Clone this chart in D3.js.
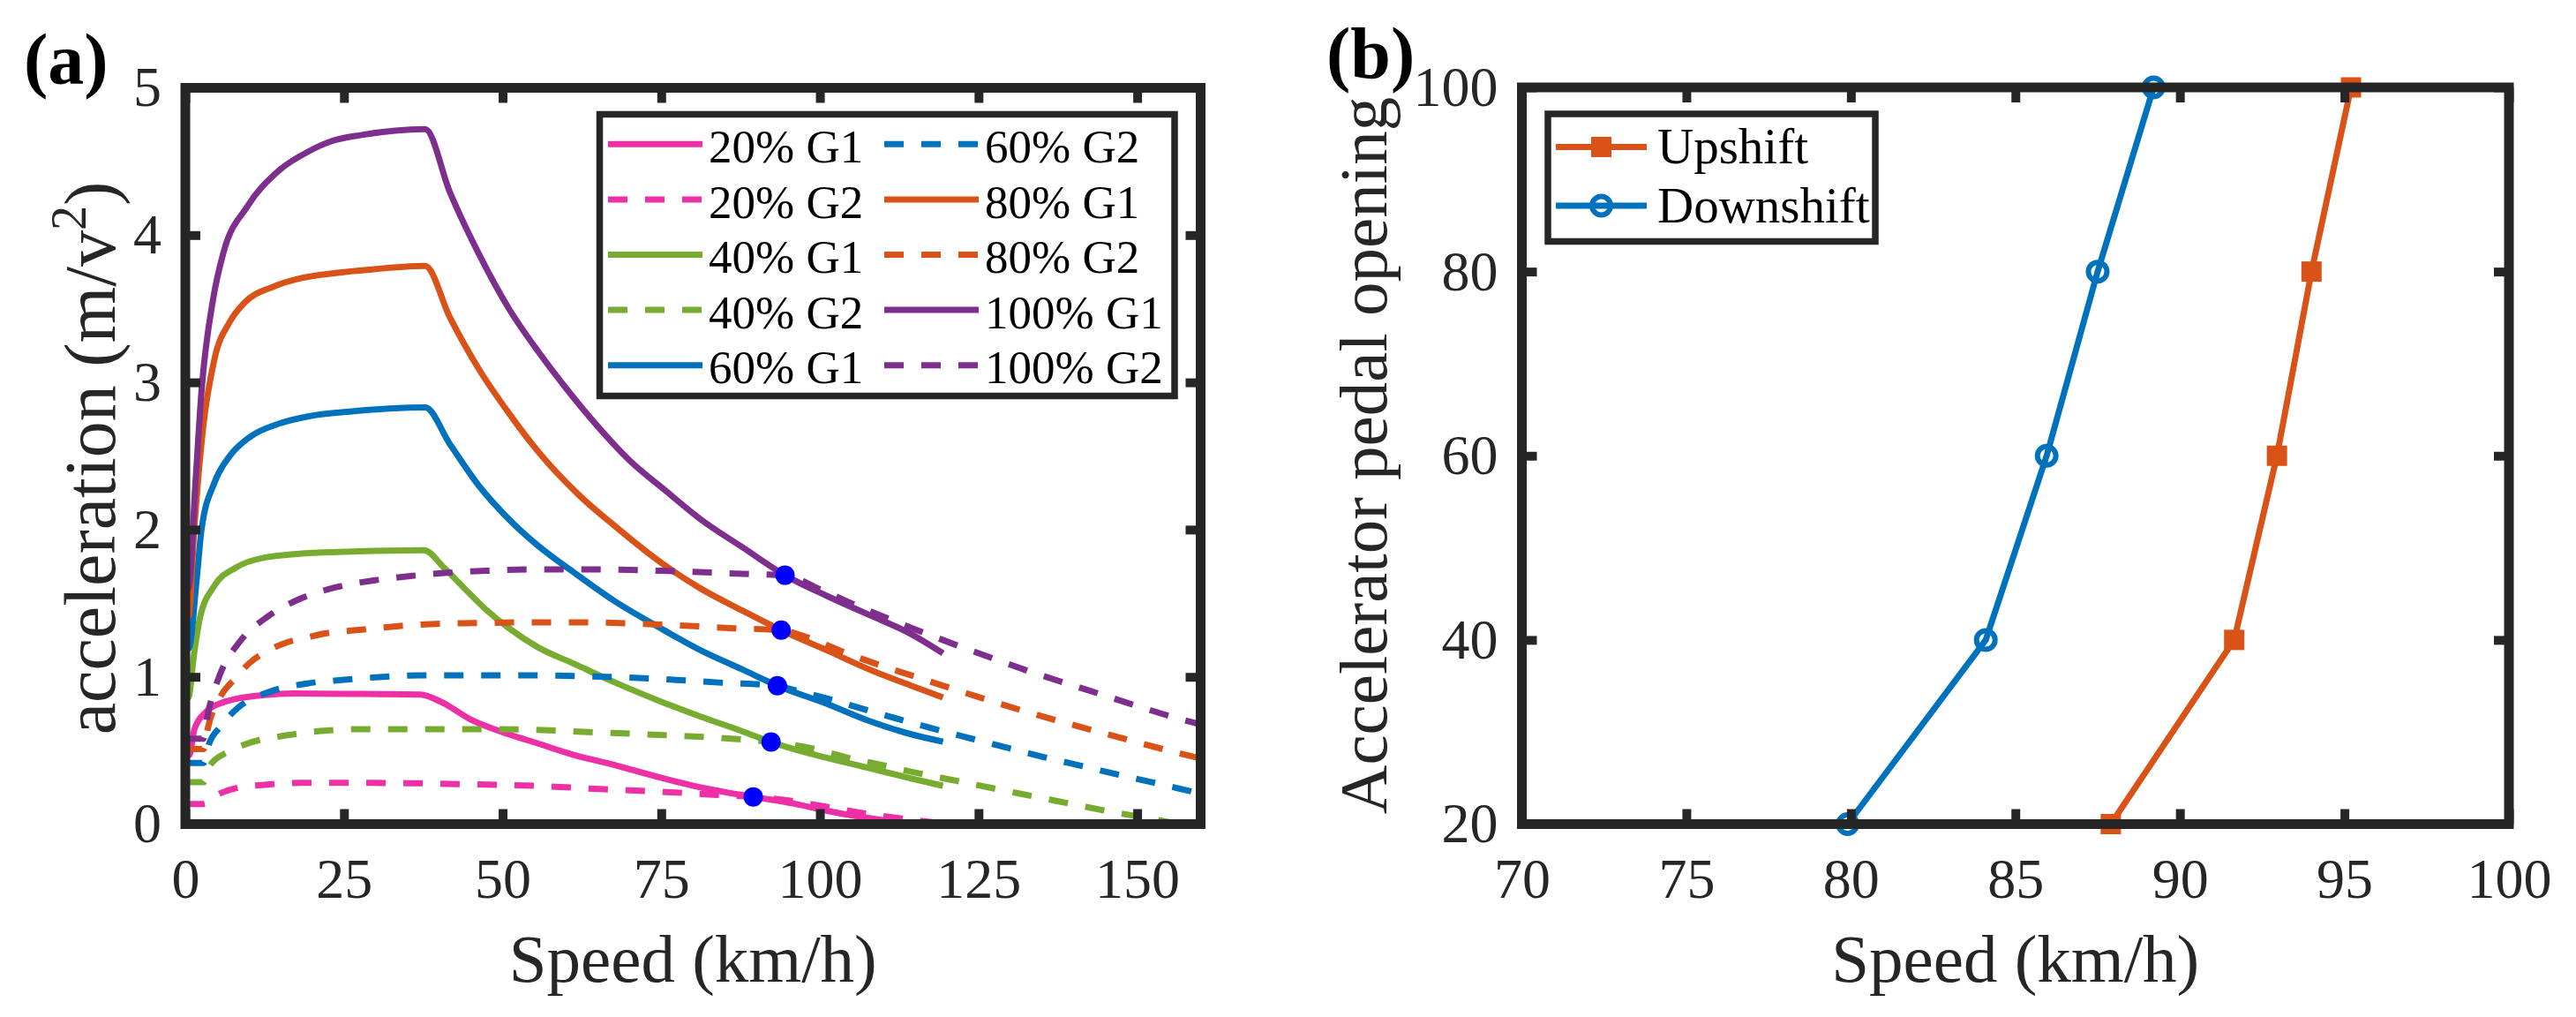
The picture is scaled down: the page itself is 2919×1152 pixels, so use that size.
<!DOCTYPE html>
<html>
<head>
<meta charset="utf-8">
<script src="https://cdn.jsdelivr.net/npm/d3@7"></script>
<style>
body { margin: 0; background: #fff; }
</style>
</head>
<body>
<svg id="chart"></svg>
<script>
// ---------- data ----------
var pedalLabels = ['20%', '40%', '60%', '80%', '100%'];

// gear 1 curves: speed (km/h) and acceleration
var g1Speed20 = [0, 0.7, 1.4, 3.2, 5.5, 12.5, 17.1, 25, 37.1, 40.3, 45, 51, 55.6, 61.2, 67.8, 74.5, 81.2, 89.5, 95.8, 101.1, 107.8, 112.4];
var g1Acc20 = [0.46, 0.47, 0.64, 0.76, 0.82, 0.877, 0.887, 0.885, 0.88, 0.83, 0.71, 0.61, 0.547, 0.47, 0.40, 0.32, 0.25, 0.185, 0.14, 0.09, 0.04, 0.01];
var g1Speed40 = [0, 0.46, 1.39, 2.3, 4.6, 7.9, 12.5, 21.8, 37.6, 40.8, 44, 47.3, 51, 55.6, 61.2, 67.8, 74.5, 81.2, 87.8, 92.3, 101.1, 107.8, 114.4, 119.4];
var g1Acc40 = [0.86, 0.86, 1.16, 1.40, 1.62, 1.74, 1.81, 1.845, 1.86, 1.74, 1.60, 1.46, 1.33, 1.20, 1.09, 0.96, 0.84, 0.73, 0.63, 0.557, 0.45, 0.38, 0.31, 0.26];
var g1Speed60 = [0, 0.5, 1.85, 2.55, 4.6, 7.0, 10.2, 14.8, 19.5, 25.5, 37.8, 41.7, 46.4, 51, 55.6, 61.2, 67.8, 74.5, 81.2, 87.8, 93.3, 101.1, 107.8, 114.4, 119.4];
var g1Acc60 = [1.19, 1.19, 1.69, 2.0, 2.32, 2.50, 2.63, 2.72, 2.77, 2.80, 2.83, 2.58, 2.29, 2.07, 1.89, 1.71, 1.51, 1.34, 1.18, 1.05, 0.94, 0.817, 0.70, 0.61, 0.56];
var g1Speed80 = [0, 0.5, 1.4, 2.8, 4.6, 7.0, 9.3, 13.9, 18.5, 23.2, 27.8, 37.8, 41.7, 46.4, 51, 55.6, 61.9, 67.8, 74.5, 81.2, 87.8, 93.9, 101.1, 107.8, 114.4, 119.4];
var g1Acc80 = [1.41, 1.41, 2.0, 2.69, 3.16, 3.41, 3.54, 3.65, 3.71, 3.74, 3.76, 3.79, 3.44, 3.08, 2.79, 2.53, 2.24, 2.02, 1.79, 1.60, 1.45, 1.317, 1.18, 1.05, 0.94, 0.86];
var g1Speed100 = [0, 0.5, 1.6, 2.55, 4.4, 6.0, 9.7, 14.8, 19.5, 23.2, 27.8, 37.8, 41.7, 46.4, 51, 55.6, 60, 65, 70, 75.8, 81.2, 87.8, 94.5, 101.1, 107.8, 114.4, 119.4];
var g1Acc100 = [1.59, 1.6, 2.32, 2.94, 3.57, 3.88, 4.19, 4.44, 4.57, 4.64, 4.68, 4.72, 4.29, 3.86, 3.50, 3.21, 2.96, 2.70, 2.47, 2.26, 2.07, 1.88, 1.69, 1.55, 1.42, 1.29, 1.16];

// gear 2 curves
var g2Speed20 = [0, 2.9, 5.1, 8.1, 12.5, 18.3, 24, 35, 45, 55, 64.5, 75, 83, 89.5, 95.1, 100.7, 106.5, 112.4, 119.5];
var g2Acc20 = [0.137, 0.137, 0.20, 0.245, 0.267, 0.28, 0.28, 0.278, 0.27, 0.26, 0.24, 0.22, 0.20, 0.185, 0.16, 0.12, 0.076, 0.04, 0.005];
var g2Speed40 = [0, 2.9, 3.9, 6.7, 9, 12, 14.8, 17.8, 22.3, 28, 34.1, 45.9, 55, 63.5, 75, 87.1, 92.3, 98.9, 104.6, 110.2, 116.1, 121.9, 127.5, 133.4, 139.2, 145, 150.8, 156.1];
var g2Acc40 = [0.285, 0.285, 0.40, 0.49, 0.535, 0.575, 0.595, 0.615, 0.635, 0.645, 0.645, 0.645, 0.64, 0.625, 0.605, 0.577, 0.557, 0.513, 0.449, 0.397, 0.34, 0.291, 0.241, 0.191, 0.141, 0.091, 0.047, 0.005];
var g2Speed60 = [0, 2.9, 3.7, 5.5, 8.3, 13.4, 19.2, 25, 31.1, 37.1, 42.9, 55, 66.5, 75, 84.5, 93.3, 95.9, 101.6, 107.2, 112.9, 118.5, 124.2, 130, 135.7, 141.4, 147.1, 152.9, 158.6, 160];
var g2Acc60 = [0.415, 0.415, 0.54, 0.66, 0.79, 0.90, 0.955, 0.98, 1.0, 1.01, 1.01, 1.01, 1.0, 0.985, 0.96, 0.94, 0.911, 0.847, 0.777, 0.707, 0.641, 0.577, 0.513, 0.451, 0.393, 0.335, 0.279, 0.221, 0.205];
var g2Speed80 = [0, 2.9, 3.6, 5.6, 7.9, 10, 13.1, 16.1, 19, 22, 27.8, 33.6, 39.4, 45.4, 55, 62.5, 75, 86.5, 93.9, 98.1, 103.6, 109.2, 114.9, 120.6, 126.2, 131.9, 137.6, 143.2, 148.9, 154.6, 160];
var g2Acc80 = [0.51, 0.51, 0.66, 0.87, 0.99, 1.09, 1.18, 1.235, 1.265, 1.295, 1.32, 1.345, 1.36, 1.365, 1.37, 1.37, 1.355, 1.33, 1.317, 1.267, 1.171, 1.083, 1.003, 0.923, 0.847, 0.771, 0.701, 0.635, 0.569, 0.503, 0.445];
var g2Speed100 = [0, 2.8, 3.6, 5.5, 8.6, 13, 18.1, 23.9, 29.7, 35.5, 41.3, 47.3, 55, 65, 75, 87.8, 94.5, 99.9, 105.4, 110.8, 116.3, 121.8, 127.4, 132.9, 138.6, 144.2, 149.9, 155.5, 160];
var g2Acc100 = [0.58, 0.58, 0.76, 1.02, 1.24, 1.41, 1.53, 1.61, 1.655, 1.685, 1.707, 1.72, 1.73, 1.73, 1.72, 1.70, 1.69, 1.597, 1.491, 1.395, 1.301, 1.211, 1.123, 1.039, 0.959, 0.883, 0.803, 0.729, 0.677];

// shift points (blue dots)
var shiftSpeed = [89.5, 92.3, 93.3, 93.9, 94.5];
var shiftAcc = [0.185, 0.557, 0.94, 1.317, 1.69];

// panel (b): shift schedule
var pedalOpening = [20, 40, 60, 80, 100];
var upshiftSpeed = [87.9, 91.65, 92.95, 94.0, 95.2];
var downshiftSpeed = [79.9, 84.1, 85.95, 87.5, 89.2];

var xTicksA = [0, 25, 50, 75, 100, 125, 150];
var yTicksA = [0, 1, 2, 3, 4, 5];
var xTicksB = [70, 75, 80, 85, 90, 95, 100];
var yTicksB = [20, 40, 60, 80, 100];

// ---------- styles ----------
var lineColors = ['#EE30A7', '#77AC30', '#0072BD', '#D95319', '#7E2F8E'];
var axisColor = '#262626';
var serif = '"Liberation Serif", "Times New Roman", serif';
var lineWidth = 7;
var dashPattern = '22,20';

var svgWidth = 2919, svgHeight = 1152;
var svg = d3.select('#chart')
    .attr('width', svgWidth)
    .attr('height', svgHeight);

svg.append('rect')
    .attr('width', svgWidth)
    .attr('height', svgHeight)
    .attr('fill', '#fff');

// box with inward ticks on all four sides
function drawFrame(g, x, y, xTicks, yTicks) {
    var x0 = x.range()[0], x1 = x.range()[1];
    var y0 = y.range()[0], y1 = y.range()[1];
    var tickLen = 17;
    var fmt = d3.format('d');

    g.append('g').attr('transform', 'translate(0,' + y0 + ')')
        .call(d3.axisBottom(x).tickValues(xTicks).tickFormat(fmt).tickSize(-tickLen).tickSizeOuter(0).tickPadding(38));
    g.append('g').attr('transform', 'translate(0,' + y1 + ')')
        .call(d3.axisTop(x).tickValues(xTicks).tickSize(-tickLen).tickSizeOuter(0).tickFormat(''));
    g.append('g').attr('transform', 'translate(' + x0 + ',0)')
        .call(d3.axisLeft(y).tickValues(yTicks).tickFormat(fmt).tickSize(-tickLen).tickSizeOuter(0).tickPadding(27));
    g.append('g').attr('transform', 'translate(' + x1 + ',0)')
        .call(d3.axisRight(y).tickValues(yTicks).tickSize(-tickLen).tickSizeOuter(0).tickFormat(''));

    g.selectAll('.domain').remove();
    g.selectAll('.tick line')
        .attr('stroke', axisColor)
        .attr('stroke-width', 10);
    g.selectAll('.tick text')
        .attr('fill', axisColor)
        .attr('font-family', serif)
        .attr('font-size', 64);

    g.append('rect')
        .attr('x', x0)
        .attr('y', y1)
        .attr('width', x1 - x0)
        .attr('height', y0 - y1)
        .attr('fill', 'none')
        .attr('stroke', axisColor)
        .attr('stroke-width', 11);
}

// ================= panel (a) =================
var xA = d3.scaleLinear().domain([0, 160]).range([210, 1360.5]);
var yA = d3.scaleLinear().domain([0, 5]).range([933.5, 99.5]);

var gA = svg.append('g');

svg.append('clipPath').attr('id', 'clipA')
    .append('rect')
    .attr('x', xA(0)).attr('y', yA(5))
    .attr('width', xA(160) - xA(0)).attr('height', yA(0) - yA(5));

var g1Speeds = [g1Speed20, g1Speed40, g1Speed60, g1Speed80, g1Speed100];
var g1Accs = [g1Acc20, g1Acc40, g1Acc60, g1Acc80, g1Acc100];
var g2Speeds = [g2Speed20, g2Speed40, g2Speed60, g2Speed80, g2Speed100];
var g2Accs = [g2Acc20, g2Acc40, g2Acc60, g2Acc80, g2Acc100];

// plotting order = legend order: 20% G1, 20% G2, 40% G1 ...
var seriesA = [];
pedalLabels.forEach(function (p, i) {
    seriesA.push({ label: p + ' G1', pts: d3.zip(g1Speeds[i], g1Accs[i]), color: lineColors[i], dashed: false });
    seriesA.push({ label: p + ' G2', pts: d3.zip(g2Speeds[i], g2Accs[i]), color: lineColors[i], dashed: true });
});

var lineA = d3.line()
    .x(function (d) { return xA(d[0]); })
    .y(function (d) { return yA(d[1]); })
    .curve(d3.curveMonotoneX);

gA.append('g').attr('clip-path', 'url(#clipA)')
    .selectAll('path')
    .data(seriesA)
    .enter()
    .append('path')
    .attr('d', function (d) { return lineA(d.pts); })
    .attr('fill', 'none')
    .attr('stroke', function (d) { return d.color; })
    .attr('stroke-width', lineWidth)
    .attr('stroke-dasharray', function (d) { return d.dashed ? dashPattern : null; });

// shift points
gA.selectAll('circle.shift')
    .data(d3.zip(shiftSpeed, shiftAcc))
    .enter()
    .append('circle')
    .attr('class', 'shift')
    .attr('cx', function (d) { return xA(d[0]); })
    .attr('cy', function (d) { return yA(d[1]); })
    .attr('r', 11)
    .attr('fill', '#0000FF');

drawFrame(gA, xA, yA, xTicksA, yTicksA);

// legend (two columns)
var legA = gA.append('g');
legA.append('rect')
    .attr('x', 679.5).attr('y', 129.5)
    .attr('width', 651.5).attr('height', 319)
    .attr('fill', '#fff')
    .attr('stroke', axisColor)
    .attr('stroke-width', 7.5);

seriesA.forEach(function (s, i) {
    var col = Math.floor(i / 5), row = i % 5;
    var lx = col === 0 ? 689 : 1002;
    var ly = 163.3 + row * 62.6;
    legA.append('line')
        .attr('x1', lx).attr('x2', lx + 107)
        .attr('y1', ly).attr('y2', ly)
        .attr('stroke', s.color)
        .attr('stroke-width', lineWidth)
        .attr('stroke-dasharray', s.dashed ? dashPattern : null);
    legA.append('text')
        .attr('x', lx + 114)
        .attr('y', ly + 20.7)
        .attr('font-family', serif)
        .attr('font-size', 53)
        .attr('fill', '#000')
        .text(s.label);
});

// axis labels
gA.append('text')
    .attr('x', (xA(0) + xA(160)) / 2)
    .attr('y', 1112)
    .attr('text-anchor', 'middle')
    .attr('font-family', serif)
    .attr('font-size', 77)
    .attr('fill', axisColor)
    .text('Speed (km/h)');

var yLabA = gA.append('text')
    .attr('transform', 'translate(130,519) rotate(-90)')
    .attr('text-anchor', 'middle')
    .attr('font-family', serif)
    .attr('font-size', 82)
    .attr('fill', axisColor);
yLabA.append('tspan').text('acceleration (m/v');
yLabA.append('tspan').attr('font-size', 56).attr('dy', -33).text('2');
yLabA.append('tspan').attr('dy', 33).text(')');

gA.append('text')
    .attr('x', 27).attr('y', 95)
    .attr('font-family', serif)
    .attr('font-weight', 'bold')
    .attr('font-size', 82)
    .attr('fill', '#000')
    .text('(a)');

// ================= panel (b) =================
var xB = d3.scaleLinear().domain([70, 100]).range([1724.5, 2843]);
var yB = d3.scaleLinear().domain([20, 100]).range([933.5, 99]);

var gB = svg.append('g');

var lineB = d3.line()
    .x(function (d) { return xB(d[0]); })
    .y(function (d) { return yB(d[1]); });

var upColor = '#D95319', downColor = '#0072BD';
var upPts = d3.zip(upshiftSpeed, pedalOpening);
var downPts = d3.zip(downshiftSpeed, pedalOpening);

gB.append('path')
    .attr('d', lineB(upPts))
    .attr('fill', 'none')
    .attr('stroke', upColor)
    .attr('stroke-width', lineWidth);

gB.selectAll('rect.up')
    .data(upPts)
    .enter()
    .append('rect')
    .attr('class', 'up')
    .attr('x', function (d) { return xB(d[0]) - 10; })
    .attr('y', function (d) { return yB(d[1]) - 10; })
    .attr('width', 20)
    .attr('height', 20)
    .attr('fill', upColor)
    .attr('stroke', upColor)
    .attr('stroke-width', 3);

gB.append('path')
    .attr('d', lineB(downPts))
    .attr('fill', 'none')
    .attr('stroke', downColor)
    .attr('stroke-width', lineWidth);

gB.selectAll('circle.down')
    .data(downPts)
    .enter()
    .append('circle')
    .attr('class', 'down')
    .attr('cx', function (d) { return xB(d[0]); })
    .attr('cy', function (d) { return yB(d[1]); })
    .attr('r', 10.5)
    .attr('fill', 'none')
    .attr('stroke', downColor)
    .attr('stroke-width', 6);

drawFrame(gB, xB, yB, xTicksB, yTicksB);

// legend
var legB = gB.append('g');
legB.append('rect')
    .attr('x', 1754).attr('y', 129)
    .attr('width', 371).attr('height', 144.5)
    .attr('fill', '#fff')
    .attr('stroke', axisColor)
    .attr('stroke-width', 7.5);

var legItemsB = [
    { label: 'Upshift', color: upColor, marker: 'square' },
    { label: 'Downshift', color: downColor, marker: 'circle' }
];
legItemsB.forEach(function (s, i) {
    var ly = 166.5 + i * 66.5;
    legB.append('line')
        .attr('x1', 1763).attr('x2', 1866)
        .attr('y1', ly).attr('y2', ly)
        .attr('stroke', s.color)
        .attr('stroke-width', lineWidth);
    if (s.marker === 'square') {
        legB.append('rect')
            .attr('x', 1814.5 - 10).attr('y', ly - 10)
            .attr('width', 20).attr('height', 20)
            .attr('fill', s.color)
            .attr('stroke', s.color)
            .attr('stroke-width', 3);
    } else {
        legB.append('circle')
            .attr('cx', 1814.5).attr('cy', ly)
            .attr('r', 10.5)
            .attr('fill', 'none')
            .attr('stroke', s.color)
            .attr('stroke-width', 6);
    }
    legB.append('text')
        .attr('x', 1878)
        .attr('y', ly + 18.5)
        .attr('font-family', serif)
        .attr('font-size', 57)
        .attr('fill', '#000')
        .text(s.label);
});

gB.append('text')
    .attr('x', (xB(70) + xB(100)) / 2)
    .attr('y', 1112)
    .attr('text-anchor', 'middle')
    .attr('font-family', serif)
    .attr('font-size', 77)
    .attr('fill', axisColor)
    .text('Speed (km/h)');

gB.append('text')
    .attr('transform', 'translate(1571,516) rotate(-90)')
    .attr('text-anchor', 'middle')
    .attr('font-family', serif)
    .attr('font-size', 77)
    .attr('fill', axisColor)
    .text('Accelerator pedal opening');

gB.append('text')
    .attr('x', 1503).attr('y', 88)
    .attr('font-family', serif)
    .attr('font-weight', 'bold')
    .attr('font-size', 82)
    .attr('fill', '#000')
    .text('(b)');
</script>
</body>
</html>
